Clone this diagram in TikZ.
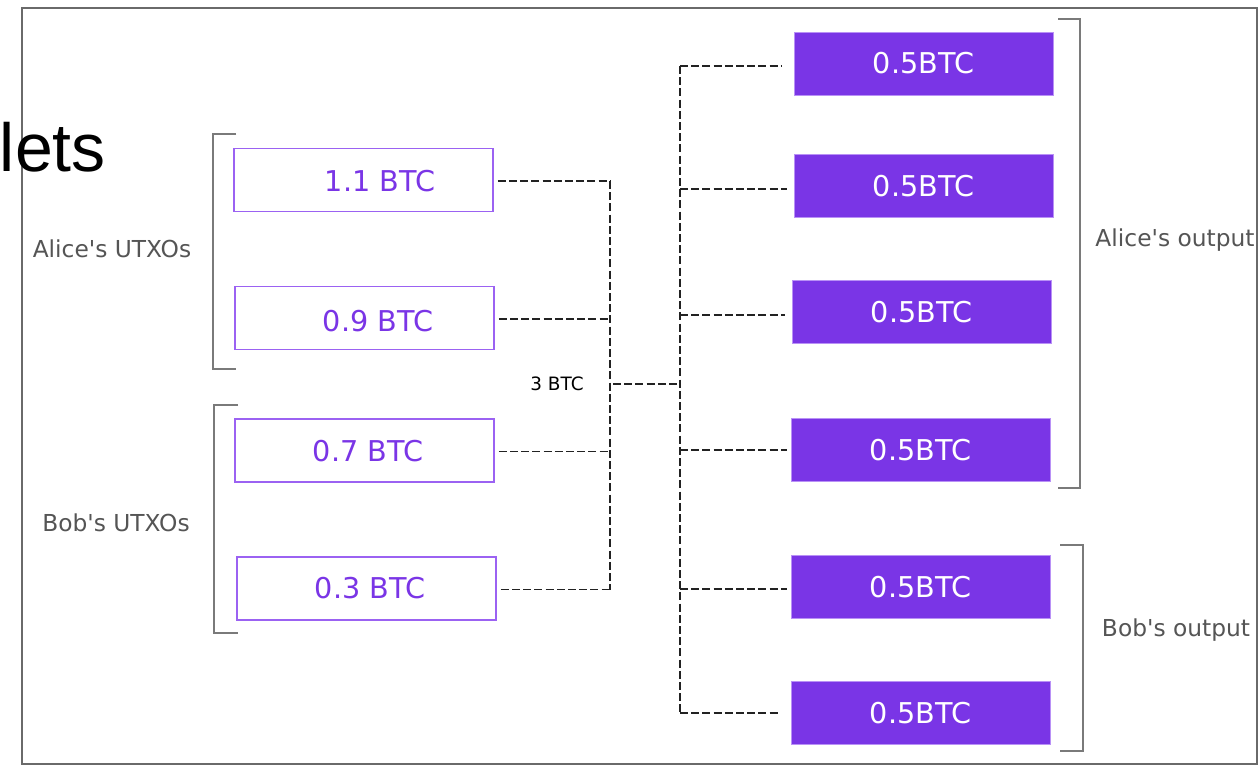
\documentclass[tikz,border=0pt]{standalone}
\usepackage{fontspec}
\setmainfont{DejaVu Sans}
\newfontfamily\arialfont{Liberation Sans}
\usetikzlibrary{calc}
\definecolor{btcpurple}{HTML}{7A35E6}
\definecolor{btcborder}{HTML}{9B62F2}
\definecolor{labelgray}{HTML}{555555}
\definecolor{brackgray}{HTML}{7A7A7A}
\definecolor{framegray}{HTML}{6A6A6A}
\definecolor{dashcol}{HTML}{222222}
\begin{document}
\begin{tikzpicture}[x=0.75pt,y=-0.75pt,
  inbox/.style={draw=btcborder, line width=1.2pt, fill=white, minimum width=194pt, minimum height=47pt, inner sep=0pt, outer sep=0pt},
  outbox/.style={fill=btcpurple, draw=btcborder!70!white, line width=0.5pt, minimum width=194pt, minimum height=47pt, inner sep=0pt, outer sep=0pt},
  intext/.style={text=btcpurple, font=\fontsize{21.5}{25}\selectfont, inner sep=0pt},
  outtext/.style={text=white, font=\fontsize{21.5}{25}\selectfont, inner sep=0pt},
  grouplabel/.style={text=labelgray, font=\fontsize{17.5}{21}\selectfont, inner sep=0pt, anchor=base},
  dashline/.style={draw=dashcol, line width=1.1pt, dash pattern=on 6pt off 2.4pt},
  brack/.style={draw=brackgray, line width=1.1pt}
]
\useasboundingbox (0,0) rectangle (1259,765);
\fill[white] (0,0) rectangle (1259,765);
% frame
\draw[framegray, line width=1.2pt] (22,8) rectangle (1257,764);
% partial title
\node[anchor=base east, inner sep=0pt, font=\arialfont\fontsize{51}{60}\selectfont] (title) at (106,171) {lets};

% input boxes
\node[inbox] (b1) at (363.5,180) {};
\node[inbox] (b2) at (364.5,318) {};
\node[inbox] (b3) at (364.5,450.5) {};
\node[inbox] (b4) at (366.5,588.5) {};
\node[intext] (t1) at (380,181) {1.1 BTC};
\node[intext] (t2) at (378,321) {0.9 BTC};
\node[intext] (t3) at (368,451) {0.7 BTC};
\node[intext] (t4) at (370,588) {0.3 BTC};

% output boxes
\node[outbox] (o1) at (923.5,63.5) {};
\node[outbox] (o2) at (923.5,186) {};
\node[outbox] (o3) at (921.5,312) {};
\node[outbox] (o4) at (920.5,450) {};
\node[outbox] (o5) at (920.5,587) {};
\node[outbox] (o6) at (920.5,713) {};
\foreach \k in {1,...,6}{\node[outtext] (ot\k) at (o\k) {0.5BTC};}

% group labels
\node[grouplabel] (la) at (112,257) {Alice\textquotesingle s UTXOs};
\node[grouplabel] (lb) at (116,531) {Bob\textquotesingle s UTXOs};
\node[grouplabel] (lc) at (1175,246) {Alice\textquotesingle s output};
\node[grouplabel] (ld) at (1176,636) {Bob\textquotesingle s output};
\node[inner sep=0pt, font=\fontsize{13.8}{16}\selectfont] (sum) at (557,384) {3 BTC};

% brackets
\draw[brack] (236,134) -- (213,134) -- (213,369) -- (236,369);
\draw[brack] (238,405) -- (214,405) -- (214,633) -- (238,633);
\draw[brack] (1058,19) -- (1080,19) -- (1080,488) -- (1058,488);
\draw[brack] (1060,545) -- (1083,545) -- (1083,751) -- (1060,751);

% junctions
\coordinate (jL) at (610,384);
\coordinate (jR) at (680,384);

% input connectors
\foreach \k in {1,...,4}{
  \draw[dashline] ($(b\k.east)+(5,1)$) -- ($(b\k.east -| jL)+(0,1)$);
}
\draw[dashline] ($(b1.east -| jL)+(0,1)$) -- ($(b4.east -| jL)+(0,1)$);
\draw[dashline] ($(jL)+(3,0)$) -- (jR);

% output connectors
\draw[dashline] ($(o1.west -| jR)+(0,2.5)$) -- (o6.west -| jR);
\foreach \k/\g/\dy in {1/12/2.5, 2/7/3, 3/7/3, 4/4/0, 5/4/2, 6/11/0}{
  \draw[dashline] ($(o\k.west -| jR)+(0,\dy)$) -- ($(o\k.west)+(-\g,\dy)$);
}
\end{tikzpicture}
\end{document}
